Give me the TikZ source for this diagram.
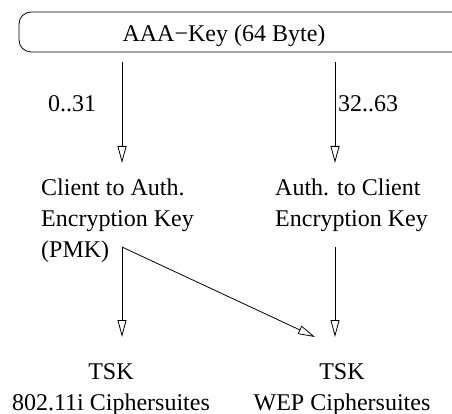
\documentclass[tikz,border=0pt]{standalone}
\usepackage{fontspec}
\setmainfont{Liberation Serif}
\usetikzlibrary{arrows.meta}

\begin{document}
\begin{tikzpicture}[
  x=1pt, y=-1pt,
  every node/.style={font=\fontsize{24}{31}\selectfont, inner sep=0pt},
  keyblock/.style={align=left, anchor=north west},
  tskblock/.style={align=center, anchor=north},
  flow/.style={
    -{Triangle[open, length=17pt, width=9pt]},
    line width=0.8pt,
  },
]
  \useasboundingbox (0,0) rectangle (452,414);

  % the master key
  \draw[line width=0.8pt, rounded corners=12pt] (19,12) rectangle (470,52);
  \node[anchor=base] (aaa) at (224,41.7) {AAA−Key (64 Byte)};

  \node[anchor=base west] (lowhalf) at (48,112) {0..31};
  \node[anchor=base west] (highhalf) at (338,112) {32..63};

  \node[keyblock] (c2a) at (41,178.6) {Client to Auth.\\Encryption Key\\(PMK)};
  \node[keyblock] (a2c) at (275,178.6) {Auth. to Client\\Encryption Key};

  \node[tskblock] (tsk11i) at (111,363) {TSK\\802.11i Ciphersuites};
  \node[tskblock] (tskwep) at (342,363) {TSK\\WEP Ciphersuites};

  \coordinate (splitL) at (122,62);
  \coordinate (splitR) at (335,62);
  \coordinate (intoL) at (122,163);
  \coordinate (intoR) at (335,163);
  \coordinate (outL) at (122,247);
  \coordinate (outR) at (335,247);
  \coordinate (toL) at (122,337);
  \coordinate (toR) at (335,337);
  \coordinate (toWep) at (315,337);

  \draw[flow] (splitL) -- (intoL);
  \draw[flow] (splitR) -- (intoR);
  \draw[flow] (outL) -- (toL);
  \draw[flow] (outR) -- (toR);
  \draw[flow] (outL) -- (toWep);
\end{tikzpicture}
\end{document}
